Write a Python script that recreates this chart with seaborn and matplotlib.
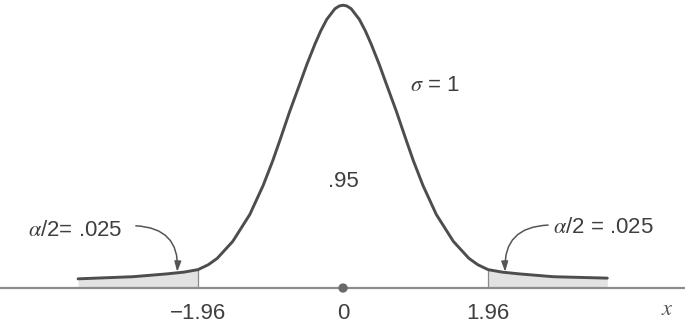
import numpy as np
import pandas as pd
import matplotlib
matplotlib.use("Agg")
import matplotlib.pyplot as plt
import seaborn as sns

# curve points (z units, density units)
curve_x = [-3.58, -2.84, -2.38, -2.15, -1.96, -1.82, -1.70, -1.49, -1.26, -1.08,
           -0.95, -0.85, -0.72, -0.58, -0.49, -0.38, -0.30, -0.22, -0.11, -0.05,
           0.00,
           0.05, 0.11, 0.22, 0.30, 0.38, 0.49, 0.58, 0.72, 0.85, 0.95,
           1.08, 1.26, 1.49, 1.70, 1.82, 1.96, 2.15, 2.38, 2.84, 3.57]
curve_y = [0.013, 0.016, 0.020, 0.0225, 0.026, 0.033, 0.042, 0.066, 0.104, 0.145,
           0.180, 0.210, 0.250, 0.290, 0.316, 0.345, 0.364, 0.380, 0.395, 0.399,
           0.400,
           0.399, 0.395, 0.380, 0.364, 0.345, 0.316, 0.290, 0.250, 0.210, 0.180,
           0.145, 0.104, 0.066, 0.042, 0.033, 0.026, 0.0225, 0.020, 0.016, 0.014]

crit = 1.96
tick_pos = [-1.96, 0, 1.96]
tick_labels = ["\u22121.96", "0", "1.96"]
tail_label = ".025"
center_label = ".95"
sigma = 1

df = pd.DataFrame({"x": curve_x, "y": curve_y})

sns.set_style("white")
plt.rcParams["font.family"] = ["Liberation Sans Narrow", "Liberation Sans", "DejaVu Sans"]
plt.rcParams["mathtext.fontset"] = "stix"

fig = plt.figure(figsize=(6.85, 3.25), dpi=100)
ax = fig.add_axes([0, 0, 1, 1])

ink = "#4d4d4d"
txt = "#3f3f3f"

# shaded tails
left = df[df.x <= -crit + 1e-9]
right = df[df.x >= crit - 1e-9]
ax.fill_between(left.x, 0, left.y, color="#e2e2e2", lw=0)
ax.fill_between(right.x, 0, right.y, color="#e2e2e2", lw=0)
ax.vlines([-crit, crit], 0, [left.y.iloc[-1], right.y.iloc[0]], color="#8a8a8a", lw=0.9)

sns.lineplot(data=df, x="x", y="y", sort=False, estimator=None, color=ink, lw=2.1, ax=ax)
sns.scatterplot(x=[0], y=[0], color="#6a6a6a", s=45, edgecolor="none", zorder=5, ax=ax)

ax.set_xlim(-4.635, 4.62)
ax.set_ylim(-0.0523, 0.4074)

for s in ["top", "left", "right"]:
    ax.spines[s].set_visible(False)
ax.spines["bottom"].set_position(("data", 0))
ax.spines["bottom"].set_color("#8c8c8c")
ax.spines["bottom"].set_linewidth(1.6)
ax.set_yticks([])
ax.set_xticks(tick_pos)
ax.set_xticklabels(tick_labels)
ax.tick_params(axis="x", length=0, pad=11, labelsize=16, labelcolor=txt)
ax.set_xlabel("")
ax.set_ylabel("")

ax.text(4.38, -0.031, "$x$", fontsize=16, color="#555555", ha="center", va="center")
ax.text(0, 0.150, center_label, fontsize=16, color=txt, ha="center", va="center")
ax.text(1.24, 0.287, r"$\sigma$ = %d" % sigma, fontsize=16, color=txt, ha="center", va="center")
ax.text(-3.62, 0.082, r"$\alpha$/2= " + tail_label, fontsize=16, color=txt, ha="center", va="center")
ax.text(3.52, 0.085, r"$\alpha$/2 = " + tail_label, fontsize=16, color=txt, ha="center", va="center")

arrow = dict(arrowstyle="-|>,head_length=0.6,head_width=0.2", color="#555555", lw=1.1,
             shrinkA=0, shrinkB=0)
ax.annotate("", xy=(-2.24, 0.023), xytext=(-2.80, 0.088),
            arrowprops=dict(arrow, connectionstyle="arc3,rad=-0.5"))
ax.annotate("", xy=(2.19, 0.023), xytext=(2.77, 0.089),
            arrowprops=dict(arrow, connectionstyle="arc3,rad=0.5"))

fig.savefig("out.png", dpi=100)
